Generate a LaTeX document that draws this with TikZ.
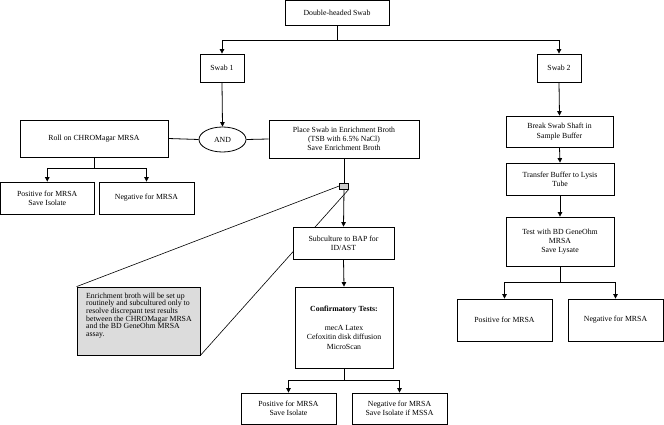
\documentclass[tikz,border=0pt]{standalone}
\usepackage{fontspec}
\setmainfont{Liberation Serif}
\usetikzlibrary{arrows.meta,shapes.geometric,backgrounds,calc}
\definecolor{notegray}{RGB}{220,220,220}
\definecolor{sqgray}{RGB}{205,205,205}
\begin{document}
\begin{tikzpicture}[x=1pt,y=-1pt,
  box/.style={draw, line width=0.8pt, fill=white, align=center, inner sep=1pt,
              font=\fontsize{7.8}{9.2}\selectfont},
  arr/.style={line width=0.8pt, -{Triangle[length=4.5pt,width=4.5pt]}},
  ln/.style={line width=0.8pt},
  callout/.style={line width=0.6pt}]
\useasboundingbox (0,0) rectangle (664,425);

% top
\node[box, minimum width=104pt, minimum height=24.5pt] (top) at (337,12.75) {Double-headed Swab};
\node[box, minimum width=44pt, minimum height=28pt] (swab1) at (222,68) {Swab 1};
\node[box, minimum width=44pt, minimum height=28pt] (swab2) at (559,68) {Swab 2};
\coordinate (j0) at (337,40);

% left branch
\node[box, ellipse, minimum width=47pt, minimum height=25pt, inner sep=0pt] (and) at (222.5,139.5) {AND};
\node[box, minimum width=148pt, minimum height=37pt] (roll) at (94,138.5) {Roll on CHROMagar MRSA};
\node[box, minimum width=150pt, minimum height=38pt] (place) at (344,139) {Place Swab in Enrichment Broth\\(TSB with 6.5\% NaCl)\\Save Enrichment Broth};
\node[box, minimum width=93.5pt, minimum height=32pt] (pos1) at (47.25,198) {Positive for MRSA\\Save Isolate};
\node[box, minimum width=95pt, minimum height=32pt] (neg1) at (146.5,198) {Negative for MRSA};
\coordinate (j1) at (94,168);

% enrichment branch
\node[draw, line width=0.6pt, fill=sqgray, minimum width=9pt, minimum height=6pt, inner sep=0pt] (sq) at (344,186) {};
\node[box, draw, line width=0.8pt, fill=notegray, minimum width=123pt, minimum height=68pt] (note) at (138.5,321) {};
\node[align=left, anchor=north west, inner sep=0pt, font=\fontsize{7.8}{7.7}\selectfont] (notetext) at (86,292.5)
  {Enrichment broth will be set up\\routinely and subcultured only to\\resolve discrepant test results\\between the CHROMagar MRSA\\and the BD GeneOhm MRSA\\assay.};
\node[box, minimum width=101pt, minimum height=32pt] (sub) at (343.5,243) {Subculture to BAP for\\ID/AST};
\node[box, minimum width=98pt, minimum height=81pt] (conf) at (344,327.5)
  {\textbf{Confirmatory Tests:}\\[10pt]mecA Latex\\Cefoxitin disk diffusion\\MicroScan};
\coordinate (j2) at (344,380);
\node[box, minimum width=95pt, minimum height=31pt] (pos2) at (288.5,408.5) {Positive for MRSA\\Save Isolate};
\node[box, minimum width=95pt, minimum height=31pt] (neg2) at (399.5,408.5) {Negative for MRSA\\Save Isolate if MSSA};

% right branch
\node[box, minimum width=107pt, minimum height=31pt] (brk) at (559.5,131.5) {Break Swab Shaft in\\Sample Buffer};
\node[box, minimum width=108pt, minimum height=32pt] (trans) at (560,179) {Transfer Buffer to Lysis\\Tube};
\node[box, minimum width=108pt, minimum height=49pt] (test) at (560,241.5) {Test with BD GeneOhm\\MRSA\\Save Lysate};
\coordinate (j3) at (560,282);
\node[box, minimum width=95pt, minimum height=42pt] (pos3) at (504.5,320) {Positive for MRSA};
\node[box, minimum width=95pt, minimum height=42pt] (neg3) at (615.5,320) {Negative for MRSA};

% connectors
\draw[ln] (top.south) -- (j0);
\draw[arr] (j0) -| (swab1.north);
\draw[arr] (j0) -| (swab2.north);
\draw[arr] (swab1.south) -- (and.north);
\draw[ln] (roll.east) -- (and.west);
\draw[ln] (and.east) -- (place.west);
\draw[ln] (roll.south) -- (j1);
\draw[arr] (j1) -| (pos1.north);
\draw[arr] (j1) -| (neg1.north);
\draw[ln] (place.south) -- (sq.north);
\draw[arr] (sq.south) -- (sub.north);
\draw[arr] (sub.south) -- (conf.north);
\draw[ln] (conf.south) -- (j2);
\draw[arr] (j2) -| (pos2.north);
\draw[arr] (j2) -| (neg2.north);
\draw[arr] (swab2.south) -- (brk.north);
\draw[arr] (brk.south) -- (trans.north);
\draw[arr] (trans.south) -- (test.north);
\draw[ln] (test.south) -- (j3);
\draw[arr] (j3) -| (pos3.north);
\draw[arr] (j3) -| (neg3.north);

% callout lines behind boxes
\begin{pgfonlayer}{background}
\draw[callout] (note.north west) -- (sq.west);
\draw[callout] (note.south east) -- (sq.south east);
\end{pgfonlayer}
\end{tikzpicture}
\end{document}
